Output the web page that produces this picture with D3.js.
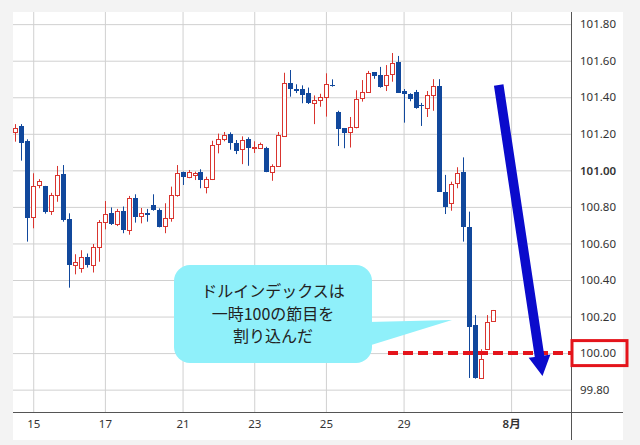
<!DOCTYPE html>
<html>
<head>
<meta charset="utf-8">
<script src="https://cdn.jsdelivr.net/npm/d3@7"></script>
<style>
  body { margin: 0; background: #fff; }
  svg text { font-family: "Noto Sans", "Noto Sans CJK JP", sans-serif; }
</style>
</head>
<body>
<svg id="chart" width="640" height="445"></svg>
<script>
// 4h candles, oldest first
const opens = [101.208,101.243,101.161,100.743,100.918,100.913,100.775,100.863,100.980,100.733,
  100.484,100.466,100.524,100.481,100.579,100.716,100.765,100.709,100.778,100.675,
  100.851,100.750,100.765,100.810,100.783,100.694,100.738,100.865,100.989,100.962,
  100.976,100.993,100.907,100.953,101.143,101.172,101.199,101.148,101.115,101.170,
  101.124,101.125,101.125,100.989,101.024,101.189,101.476,101.444,101.444,101.423,
  101.371,101.385,101.403,101.469,101.321,101.230,101.208,101.236,101.394,101.430,
  101.537,101.522,101.465,101.526,101.591,101.434,101.416,101.429,101.357,101.343,
  101.411,101.462,100.883,100.820,100.929,100.989,100.688,100.154,99.862,100.021,100.178];
const highs = [101.253,101.253,101.170,100.984,100.952,100.915,100.877,101.024,101.029,100.765,
  100.541,100.563,100.545,100.597,100.728,100.832,100.797,100.789,100.802,100.860,
  100.869,100.794,100.789,100.869,100.792,100.820,100.911,101.029,100.993,101.002,
  100.993,101.006,100.965,101.162,101.201,101.210,101.208,101.166,101.186,101.181,
  101.159,101.152,101.129,101.033,101.210,101.534,101.549,101.471,101.465,101.453,
  101.410,101.419,101.531,101.498,101.326,101.230,101.292,101.438,101.494,101.544,
  101.537,101.566,101.576,101.642,101.626,101.445,101.422,101.440,101.369,101.434,
  101.499,101.499,100.975,100.938,101.017,101.071,100.774,100.208,100.021,100.208,100.236];
const lows = [101.157,101.053,100.610,100.683,100.902,100.763,100.756,100.828,100.719,100.358,
  100.431,100.440,100.468,100.441,100.500,100.677,100.701,100.695,100.656,100.648,
  100.714,100.710,100.719,100.779,100.688,100.656,100.719,100.856,100.920,100.957,
  100.947,100.902,100.874,100.947,101.093,101.159,101.113,101.089,101.034,101.025,
  101.095,101.117,100.990,100.943,101.020,101.184,101.403,101.423,101.367,101.363,
  101.253,101.348,101.294,101.458,101.133,101.121,101.125,101.230,101.376,101.425,
  101.501,101.452,101.434,101.485,101.424,101.261,101.378,101.337,101.243,101.292,
  101.326,100.883,100.761,100.779,100.902,100.610,99.864,99.860,99.862,100.017,100.172];
const closes = [101.233,101.152,100.741,100.917,100.939,100.772,100.863,100.973,100.728,100.482,
  100.498,100.524,100.480,100.581,100.716,100.760,100.705,100.778,100.672,100.850,
  100.746,100.765,100.753,100.782,100.692,100.738,100.865,100.984,100.962,100.993,
  100.987,100.947,100.953,101.136,101.170,101.193,101.148,101.108,101.164,101.120,
  101.129,101.144,100.993,101.024,101.193,101.476,101.444,101.433,101.415,101.367,
  101.385,101.400,101.471,101.465,101.225,101.206,101.236,101.389,101.430,101.533,
  101.515,101.458,101.522,101.590,101.425,101.416,101.390,101.341,101.353,101.411,
  101.462,100.883,100.801,100.924,100.984,100.688,100.144,99.862,99.966,100.172,100.236];

const xTickIdx = [3, 15, 28, 40, 52, 65, 83];
const xTickLabels = ["15", "17", "21", "23", "25", "29", "8月"];
const yTicks = [99.8, 100.0, 100.2, 100.4, 100.6, 100.8, 101.0, 101.2, 101.4, 101.6, 101.8];
const noteLines = ["ドルインデックスは", "一時100の節目を", "割り込んだ"];

const svg = d3.select("#chart"),
    panel = {left: 13, top: 12, right: 623, bottom: 440},
    axisX = 571, axisY = 412;

const x = d3.scaleLinear().domain([0, 83]).range([15.3, 511.1]);
const y = d3.scaleLinear().domain([99.8, 101.8]).range([389.65, 24.15]);

svg.append("rect").attr("width", 640).attr("height", 445).attr("fill", "#f3f3f3");
svg.append("rect")
    .attr("x", panel.left).attr("y", panel.top)
    .attr("width", panel.right - panel.left).attr("height", panel.bottom - panel.top)
    .attr("fill", "#fff");

// grid
const gy = svg.append("g")
    .attr("transform", `translate(${axisX},0)`)
    .call(d3.axisLeft(y).tickValues(yTicks).tickSize(axisX - panel.left).tickFormat(""));
gy.select(".domain").remove();
gy.selectAll("line").attr("stroke", "#d0d0d0");

const gx = svg.append("g")
    .attr("transform", `translate(0,${axisY})`)
    .call(d3.axisTop(x).tickValues(xTickIdx).tickSize(axisY - panel.top).tickFormat(""));
gx.select(".domain").remove();
gx.selectAll("line").attr("stroke", "#d0d0d0");

// axis lines
svg.append("line").attr("x1", panel.left).attr("x2", panel.right)
    .attr("y1", axisY + 0.5).attr("y2", axisY + 0.5).attr("stroke", "#555");
svg.append("line").attr("x1", axisX + 0.5).attr("x2", axisX + 0.5)
    .attr("y1", panel.top).attr("y2", panel.bottom).attr("stroke", "#555");

// labels
const ly = svg.append("g")
    .attr("transform", `translate(${axisX},0)`)
    .call(d3.axisRight(y).tickValues(yTicks).tickSize(0).tickPadding(9).tickFormat(d3.format(".2f")));
ly.select(".domain").remove();
ly.selectAll("text").attr("fill", "#333").style("font-size", "11.5px")
    .style("font-weight", d => d === 101 ? 600 : 400);

const lx = svg.append("g")
    .attr("transform", `translate(0,${axisY})`)
    .call(d3.axisBottom(x).tickValues(xTickIdx).tickSize(0).tickPadding(8)
        .tickFormat((d, i) => xTickLabels[i]));
lx.select(".domain").remove();
lx.selectAll("text").attr("fill", "#333").style("font-size", "11.5px")
    .style("font-weight", d => d === 83 ? 600 : 400);

// candles
const candles = opens.map((o, i) => ({i, o, h: highs[i], l: lows[i], c: closes[i]}));
const up = "#d9352f", down = "#11489c";

const cg = svg.append("g").selectAll("g").data(candles).enter().append("g");
cg.append("line")
    .attr("x1", d => Math.round(x(d.i)) + 0.5).attr("x2", d => Math.round(x(d.i)) + 0.5)
    .attr("y1", d => y(d.h)).attr("y2", d => y(d.l))
    .attr("stroke", d => d.c >= d.o ? up : down);
cg.append("rect")
    .attr("x", d => d.c >= d.o ? Math.round(x(d.i)) - 1.5 : Math.round(x(d.i)) - 2)
    .attr("width", d => d.c >= d.o ? 4 : 5)
    .attr("y", d => {
      const t = Math.round(y(Math.max(d.o, d.c)));
      return d.c >= d.o ? t + 0.5 : t;
    })
    .attr("height", d => Math.max(1, Math.round(y(Math.min(d.o, d.c))) - Math.round(y(Math.max(d.o, d.c)))))
    .attr("fill", d => d.c >= d.o ? "#fff" : down)
    .attr("stroke", d => d.c >= d.o ? up : "none");

// 100.00 line and box
const y100 = y(100);
svg.append("line").attr("x1", 388).attr("x2", axisX)
    .attr("y1", y100).attr("y2", y100)
    .attr("stroke", "#e4141b").attr("stroke-width", 4).attr("stroke-dasharray", "10,5");
svg.append("rect").attr("x", axisX + 1).attr("y", y100 - 12.5).attr("width", 55).attr("height", 25)
    .attr("fill", "none").attr("stroke", "#e4141b").attr("stroke-width", 3);

// blue arrow
const s = [498.7, 85], t = [542.5, 376];
const len = Math.hypot(t[0] - s[0], t[1] - s[1]);
const u = [(t[0] - s[0]) / len, (t[1] - s[1]) / len], n = [u[1], -u[0]];
const b = [t[0] - 20 * u[0], t[1] - 20 * u[1]];
const pt = (p, k) => [p[0] + k * n[0], p[1] + k * n[1]];
svg.append("path")
    .attr("d", d3.line()([pt(s, 4.8), pt(b, 4.8), pt(b, 11), t, pt(b, -11), pt(b, -4.8), pt(s, -4.8)]) + "Z")
    .attr("fill", "#0b0bcc");

// callout
svg.append("path")
    .attr("d", "M368,322 L452,320 L368,346 Z")
    .attr("fill", "#8ff0fa");
svg.append("rect").attr("x", 174).attr("y", 265).attr("width", 198).attr("height", 98)
    .attr("rx", 16).attr("fill", "#8ff0fa");
svg.append("g").selectAll("text").data(noteLines).enter().append("text")
    .attr("x", 273).attr("y", (d, i) => 290 + i * 22.5)
    .attr("text-anchor", "middle").attr("dominant-baseline", "central")
    .attr("fill", "#222")
    .style("font-family", '"Noto Sans CJK JP", sans-serif')
    .style("font-size", "16px")
    .text(d => d);
</script>
</body>
</html>
